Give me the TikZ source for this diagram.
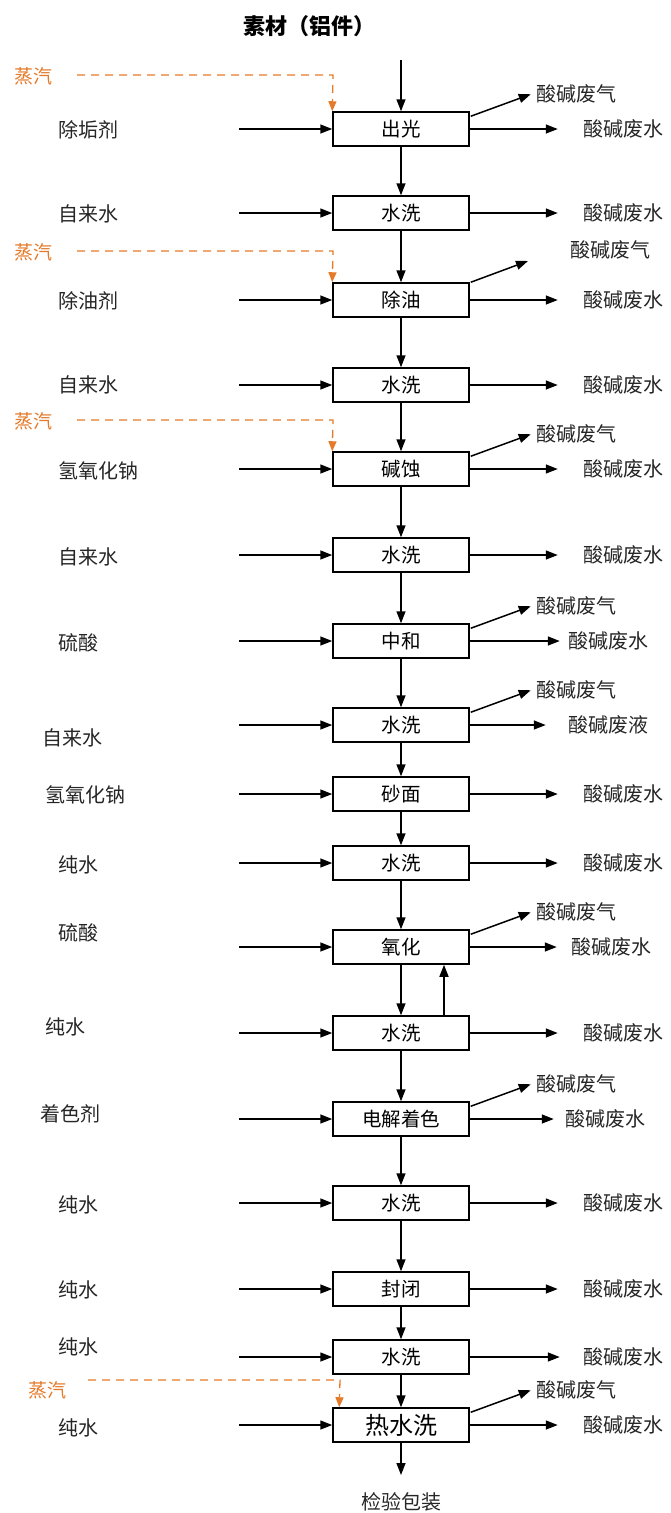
\documentclass[tikz,border=0pt]{standalone}
\usepackage{fontspec}
\setmainfont{Noto Sans CJK SC}
\usetikzlibrary{arrows.meta,calc}
\definecolor{steam}{RGB}{228,122,42}
\begin{document}
\begin{tikzpicture}[x=1pt,y=-1pt,
  proc/.style={draw,line width=1.5pt,minimum width=136pt,minimum height=34pt,inner sep=0pt,font=\fontsize{19.5}{19.5}\selectfont},
  lbl/.style={font=\fontsize{20}{20}\selectfont,inner sep=0pt,text=black!85},
  steamlbl/.style={font=\fontsize{19}{19}\selectfont,inner sep=0pt,text=steam},
  arr/.style={line width=1.5pt,-{Triangle[length=12pt,width=9pt]}},
  steamarr/.style={steam,line width=1.3pt,dash pattern=on 8pt off 6pt,-{Triangle[length=10pt,width=8pt]}}]
\useasboundingbox (0,0) rectangle (670,1513);

% title and source
\node[font=\fontsize{22}{22}\selectfont\bfseries,inner sep=0pt] (title) at (309,26) {素材（铝件）};
\coordinate (src) at (401,60);

% process boxes
\foreach \i/\y/\t in {1/129/出光,2/213/水洗,3/300/除油,4/385/水洗,5/469/碱蚀,6/555/水洗,7/641/中和,8/725/水洗,9/794/砂面,10/863/水洗,11/947/氧化,12/1033/水洗,13/1119/电解着色,14/1203/水洗,15/1289/封闭,16/1357/水洗}
  \node[proc] (b\i) at (401,\y) {\t};
\node[proc,font=\fontsize{24}{24}\selectfont] (b17) at (401,1425) {热水洗};

% main flow
\draw[arr] (src) -- (b1);
\foreach \i [evaluate=\i as \j using int(\i+1)] in {1,...,16}
  \draw[arr] (b\i) -- (b\j);
\node[lbl] (final) at (401,1502) {检验包装};
\coordinate (endtip) at (401,1475);
\draw[arr] (b17) -- (endtip);

% recycle from rinse to oxidation
\draw[arr] ([xshift=43pt]b12.north) -- ([xshift=43pt]b11.south);

% inputs
\foreach \i/\x/\y/\t in {1/58/130/除垢剂,2/58/214/自来水,3/58/301/除油剂,4/58/385/自来水,5/58/471/氢氧化钠,6/58/557/自来水,7/58/643/硫酸,8/42/738/自来水,9/45/795/氢氧化钠,10/58/865/纯水,11/58/933/硫酸,12/45/1027/纯水,13/40/1114/着色剂,14/58/1205/纯水,15/58/1290/纯水,16/58/1347/纯水,17/58/1428/纯水}
{
  \node[lbl,anchor=west] (in\i) at (\x,\y) {\t};
  \draw[arr] ([xshift=-93pt]b\i.west) -- (b\i.west);
}

% outputs (waste water)
\foreach \i/\l/\g/\t in {1/88/114/酸碱废水,2/88/114/酸碱废水,3/88/114/酸碱废水,4/88/114/酸碱废水,5/88/114/酸碱废水,6/88/114/酸碱废水,7/90/99/酸碱废水,8/76/99/酸碱废液,9/88/114/酸碱废水,10/88/114/酸碱废水,11/87/102/酸碱废水,12/88/114/酸碱废水,13/84/96/酸碱废水,14/88/114/酸碱废水,15/88/114/酸碱废水,16/90/114/酸碱废水,17/88/114/酸碱废水}
{
  \node[lbl,anchor=west] (out\i) at ([xshift=\g pt]b\i.east) {\t};
  \draw[arr] (b\i.east) -- ([xshift=\l pt]b\i.east);
}

% outputs (waste gas)
\foreach \i/\g in {1/6,5/6,7/6,8/6,11/6,13/6,17/10}
{
  \node[lbl,anchor=west] (gas\i) at ([shift={(67pt,17pt)}]b\i.north east) {酸碱废气};
  \draw[arr] ([shift={(1pt,-5pt)}]b\i.north east) -- ([shift={(61pt,17pt)}]b\i.north east);
}
\node[lbl,anchor=west] (gas3) at (570,250) {酸碱废气};
\coordinate (g3tip) at (528,261);
\draw[arr] ([shift={(1pt,0pt)}]b3.north east) -- (g3tip);

% steam
\foreach \i/\y in {1/75,3/251,5/420}
{
  \node[steamlbl] (st\i) at (33,\y+1) {蒸汽};
  \coordinate (sc\i) at (333,\y);
  \draw[steamarr] (77,\y) -- (sc\i) -- (b\i.north west);
}
\node[steamlbl] (st17) at (47,1390) {蒸汽};
\coordinate (sc17) at (340,1380);
\draw[steamarr] (88,1380) -- (sc17) -- ([xshift=7pt]b17.north west);
\end{tikzpicture}
\end{document}
